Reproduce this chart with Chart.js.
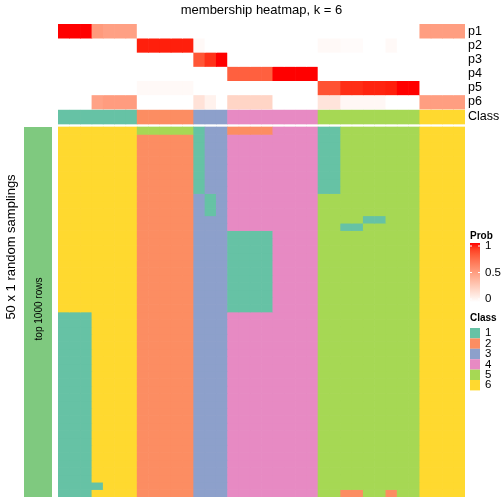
<!DOCTYPE html>
<html>
<head>
<meta charset="utf-8">
<script src="https://cdn.jsdelivr.net/npm/chart.js@4/dist/chart.umd.min.js"></script>
<style>
  html, body { margin: 0; padding: 0; background: #fff; }
</style>
</head>
<body>
<canvas id="heat" width="504" height="504"></canvas>
<script>
// membership probabilities per column (36 samples)
const p1 = [1, 1, 1, 0.52, 0.49, 0.49, 0.49, 0, 0, 0, 0, 0, 0, 0, 0, 0, 0, 0, 0, 0, 0, 0, 0, 0, 0, 0, 0, 0, 0, 0, 0, 0, 0.5, 0.5, 0.5, 0.5];
const p2 = [0, 0, 0, 0, 0, 0, 0, 0.97, 0.97, 0.97, 0.97, 0.97, 0.03, 0, 0, 0, 0, 0, 0, 0, 0, 0, 0, 0.03, 0.03, 0.02, 0.02, 0, 0, 0.03, 0, 0, 0, 0, 0, 0];
const p3 = [0, 0, 0, 0, 0, 0, 0, 0, 0, 0, 0, 0, 0.82, 0.93, 1, 0, 0, 0, 0, 0, 0, 0, 0, 0, 0, 0, 0, 0, 0, 0, 0, 0, 0, 0, 0, 0];
const p4 = [0, 0, 0, 0, 0, 0, 0, 0, 0, 0, 0, 0, 0, 0, 0, 0.78, 0.78, 0.78, 0.78, 1, 1, 1, 1, 0, 0, 0, 0, 0, 0, 0, 0, 0, 0, 0, 0, 0];
const p5 = [0, 0, 0, 0, 0, 0, 0, 0.03, 0.03, 0.03, 0.03, 0.03, 0, 0, 0, 0, 0, 0, 0, 0, 0, 0, 0, 0.83, 0.83, 0.94, 0.94, 0.96, 0.96, 0.97, 1, 1, 0, 0, 0, 0];
const p6 = [0, 0, 0, 0.48, 0.51, 0.51, 0.51, 0, 0, 0, 0, 0, 0.15, 0.07, 0, 0.22, 0.22, 0.22, 0.22, 0, 0, 0, 0, 0.14, 0.14, 0.04, 0.04, 0.04, 0.04, 0, 0, 0, 0.5, 0.5, 0.5, 0.5];
const probNames = ['p1', 'p2', 'p3', 'p4', 'p5', 'p6'];

// consensus class per column
const classRow = [1, 1, 1, 1, 1, 1, 1, 2, 2, 2, 2, 2, 3, 3, 3, 4, 4, 4, 4, 4, 4, 4, 4, 5, 5, 5, 5, 5, 5, 5, 5, 5, 6, 6, 6, 6];

// class found in each of the 50 random samplings (one string per row, one digit per column)
const samplingRows = [
  '666666655555133222244441155555556666',
  '666666622222133444444441155555556666',
  '666666622222133444444441155555556666',
  '666666622222133444444441155555556666',
  '666666622222133444444441155555556666',
  '666666622222133444444441155555556666',
  '666666622222133444444441155555556666',
  '666666622222133444444441155555556666',
  '666666622222133444444441155555556666',
  '666666622222313444444445555555556666',
  '666666622222313444444445555555556666',
  '666666622222313444444445555555556666',
  '666666622222333444444445555115556666',
  '666666622222333444444445511555556666',
  '666666622222333111144445555555556666',
  '666666622222333111144445555555556666',
  '666666622222333111144445555555556666',
  '666666622222333111144445555555556666',
  '666666622222333111144445555555556666',
  '666666622222333111144445555555556666',
  '666666622222333111144445555555556666',
  '666666622222333111144445555555556666',
  '666666622222333111144445555555556666',
  '666666622222333111144445555555556666',
  '666666622222333111144445555555556666',
  '111666622222333444444445555555556666',
  '111666622222333444444445555555556666',
  '111666622222333444444445555555556666',
  '111666622222333444444445555555556666',
  '111666622222333444444445555555556666',
  '111666622222333444444445555555556666',
  '111666622222333444444445555555556666',
  '111666622222333444444445555555556666',
  '111666622222333444444445555555556666',
  '111666622222333444444445555555556666',
  '111666622222333444444445555555556666',
  '111666622222333444444445555555556666',
  '111666622222333444444445555555556666',
  '111666622222333444444445555555556666',
  '111666622222333444444445555555556666',
  '111666622222333444444445555555556666',
  '111666622222333444444445555555556666',
  '111666622222333444444445555555556666',
  '111666622222333444444445555555556666',
  '111666622222333444444445555555556666',
  '111666622222333444444445555555556666',
  '111666622222333444444445555555556666',
  '111666622222333444444445555555556666',
  '111166622222333444444445555555556666',
  '111666622222333444444445522552556666'
];

const classLabels = ['1', '2', '3', '4', '5', '6'];
const classColors = ['#66C2A5', '#FC8D62', '#8DA0CB', '#E78AC3', '#A6D854', '#FFD92F'];
const probTicks = ['0', '0.5', '1'];

// vertical layout in y-scale units (scale runs 0..473 top to bottom)
const annotH = 85 / 6;
const classTop = 86, classBottom = 100;
const mainTop = 103, mainRowH = 7.4;
const yMax = mainTop + samplingRows.length * mainRowH;

// white -> red interpolated in LAB, like colorRamp2
function probColor(v) {
  const L = 100 + (53.24 - 100) * v, a = 80.09 * v, b = 67.2 * v;
  const fy = (L + 16) / 116, fx = fy + a / 500, fz = fy - b / 200;
  const finv = t => t * t * t > 0.008856 ? t * t * t : (t - 16 / 116) / 7.787;
  const X = 0.95047 * finv(fx), Y = finv(fy), Z = 1.08883 * finv(fz);
  const r = 3.2406 * X - 1.5372 * Y - 0.4986 * Z;
  const g = -0.9689 * X + 1.8758 * Y + 0.0415 * Z;
  const bl = 0.0557 * X - 0.2040 * Y + 1.0570 * Z;
  const gam = c => {
    c = Math.min(1, Math.max(0, c));
    return Math.round(255 * (c <= 0.0031308 ? 12.92 * c : 1.055 * Math.pow(c, 1 / 2.4) - 0.055));
  };
  return 'rgb(' + gam(r) + ',' + gam(g) + ',' + gam(bl) + ')';
}

const cellDefaults = {
  barPercentage: 1,
  categoryPercentage: 1,
  grouped: false,
  borderWidth: 0
};

const datasets = [];
[p1, p2, p3, p4, p5, p6].forEach((vals, i) => {
  datasets.push(Object.assign({
    label: probNames[i],
    data: vals.map(() => [i * annotH, (i + 1) * annotH]),
    backgroundColor: vals.map(probColor)
  }, cellDefaults));
});
datasets.push(Object.assign({
  label: 'Class',
  data: classRow.map(() => [classTop, classBottom]),
  backgroundColor: classRow.map(c => classColors[c - 1])
}, cellDefaults));
samplingRows.forEach((row, r) => {
  const cells = row.split('').map(Number);
  datasets.push(Object.assign({
    label: 'sampling ' + (r + 1),
    data: cells.map(() => [mainTop + r * mainRowH, mainTop + (r + 1) * mainRowH]),
    backgroundColor: cells.map(c => classColors[c - 1])
  }, cellDefaults));
});

const FONT = '"Liberation Sans", Arial, sans-serif';

const decorations = {
  id: 'decorations',
  afterDraw(chart) {
    const ctx = chart.ctx;
    const area = chart.chartArea;
    const y = chart.scales.y;
    ctx.save();
    ctx.fillStyle = '#000';
    ctx.textBaseline = 'middle';

    // title
    ctx.font = '13px ' + FONT;
    ctx.textAlign = 'center';
    ctx.fillText('membership heatmap, k = 6', (area.left + area.right) / 2, 10);

    // row names on the right of the annotations
    ctx.textAlign = 'left';
    ctx.font = '12.5px ' + FONT;
    probNames.forEach((n, i) => {
      ctx.fillText(n, area.right + 3, y.getPixelForValue((i + 0.5) * annotH));
    });
    ctx.fillText('Class', area.right + 3, y.getPixelForValue((classTop + classBottom) / 2));

    // left row annotation
    const top = y.getPixelForValue(mainTop), bottom = y.getPixelForValue(yMax);
    ctx.fillStyle = '#7FC97F';
    ctx.fillRect(24, top, 28, bottom - top);
    ctx.fillStyle = '#000';
    ctx.save();
    ctx.translate(39, 309);
    ctx.rotate(-Math.PI / 2);
    ctx.textAlign = 'center';
    ctx.font = '10px ' + FONT;
    ctx.fillText('top 1000 rows', 0, 0);
    ctx.restore();
    ctx.save();
    ctx.translate(11, 247);
    ctx.rotate(-Math.PI / 2);
    ctx.textAlign = 'center';
    ctx.font = '13px ' + FONT;
    ctx.fillText('50 x 1 random samplings', 0, 0);
    ctx.restore();

    // Prob legend
    const lx = 470;
    ctx.textAlign = 'left';
    ctx.font = 'bold 10px ' + FONT;
    ctx.fillText('Prob', lx, 236);
    const gTop = 243, gBot = 302;
    const grad = ctx.createLinearGradient(0, gBot, 0, gTop);
    for (let k = 0; k <= 10; k++) grad.addColorStop(k / 10, probColor(k / 10));
    ctx.fillStyle = grad;
    ctx.fillRect(lx, gTop, 10, gBot - gTop);
    ctx.strokeStyle = '#fff';
    ctx.lineWidth = 1;
    ctx.font = '11.5px ' + FONT;
    probTicks.forEach((t, i) => {
      const ty = gBot - 3 - i * (gBot - gTop - 6) / 2;
      ctx.beginPath();
      ctx.moveTo(lx, ty); ctx.lineTo(lx + 2, ty);
      ctx.moveTo(lx + 8, ty); ctx.lineTo(lx + 10, ty);
      ctx.stroke();
      ctx.fillStyle = '#000';
      ctx.fillText(t, lx + 15, ty);
    });

    // Class legend
    ctx.font = 'bold 10px ' + FONT;
    ctx.fillText('Class', lx, 318);
    ctx.font = '11.5px ' + FONT;
    classLabels.forEach((lab, i) => {
      const sy = 328 + i * 10.4;
      ctx.fillStyle = classColors[i];
      ctx.fillRect(lx, sy, 10, 10.4);
      ctx.fillStyle = '#000';
      ctx.fillText(lab, lx + 15, sy + 5.2);
    });
    ctx.restore();
  }
};

new Chart(document.getElementById('heat'), {
  type: 'bar',
  data: {
    labels: classRow.map((_, i) => 'S' + (i + 1)),
    datasets: datasets
  },
  options: {
    responsive: false,
    animation: false,
    layout: { padding: { left: 58, right: 39, top: 24, bottom: 504 - 24 - yMax } },
    plugins: {
      legend: { display: false },
      tooltip: { enabled: false },
      title: { display: false }
    },
    scales: {
      x: { display: false, grid: { display: false } },
      y: { display: false, min: 0, max: yMax, reverse: true, grid: { display: false } }
    }
  },
  plugins: [decorations]
});
</script>
</body>
</html>
